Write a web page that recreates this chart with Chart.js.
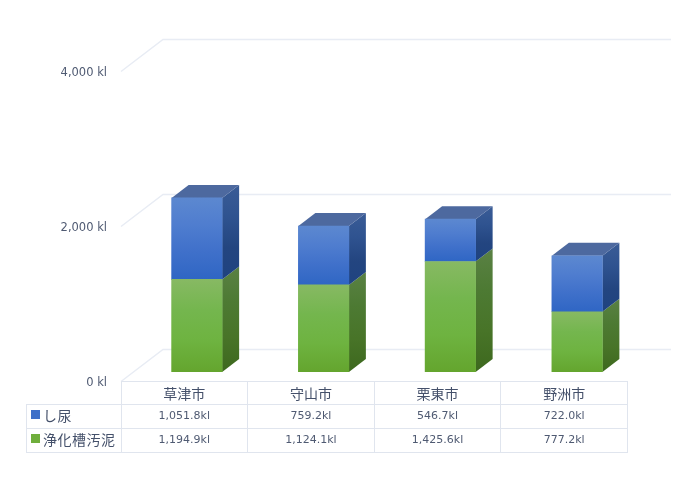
<!DOCTYPE html>
<html lang="ja">
<head>
<meta charset="utf-8">
<script src="https://cdn.jsdelivr.net/npm/chart.js@4"></script>
<style>
  html, body { margin: 0; padding: 0; background: #fff; }
  #wrap { position: relative; width: 682px; height: 481px; overflow: hidden; }
  #chart { position: absolute; left: 0; top: 0; }
  #dataTable {
    position: absolute; left: 26px; top: 381px; width: 602px;
    border-collapse: collapse; table-layout: fixed;
    font: 11px/14px "DejaVu Sans", sans-serif; color: #4f5a72;
  }
  #dataTable td { position: relative; border: 1px solid #e0e5ee; text-align: center; padding: 0 0 1px 0; height: 24px; box-sizing: border-box; white-space: nowrap; }
  #dataTable tr:first-child td { height: 23px; }
  #dataTable td.corner { border: 0; }
  #dataTable tr:first-child td:not(.corner), #dataTable td.name { font: 14px/14px "Noto Sans CJK JP", sans-serif; color: #44506a; }
  #dataTable td.name { text-align: left; padding-left: 16px; padding-bottom: 3px; letter-spacing: 0.5px; }
  .swatch { position: absolute; left: 4px; top: 5px; width: 9px; height: 9px; }
</style>
</head>
<body>
<div id="wrap">
  <canvas id="chart" width="682" height="481"></canvas>
  <table id="dataTable"></table>
</div>
<script>
const categories = ['草津市', '守山市', '栗東市', '野洲市'];
const shinyo = [1051.8, 759.2, 546.7, 722.0];
const jokaso = [1194.9, 1124.1, 1425.6, 777.2];
const yTicks = [0, 2000, 4000];

// depth of the fake 3d box, in pixels
const depthX = 17;
const depthY = 13;

function faceGradient(ctx, top, bottom, stops) {
    const g = ctx.createLinearGradient(0, top, 0, bottom);
    stops.forEach((c, i) => g.addColorStop(i / (stops.length - 1), c));
    return g;
}

const frontStops = {
    blue: ['#5c88d0', '#4f7dcf', '#3f70ca', '#2f66c4'],
    green: ['#87b963', '#74b64e', '#6eb340', '#64a52e']
};
const sideStops = {
    blue: ['#3a5c96', '#2f5390', '#234580', '#1f4380'],
    green: ['#5a8144', '#4d7a33', '#487428', '#3d681e']
};

function barFill(name) {
    return function(c) {
        const y = c.chart.scales.y;
        const sets = c.chart.data.datasets;
        if (!y || c.dataIndex === undefined) return frontStops[name][1];
        let base = 0;
        for (let i = 0; i < c.datasetIndex; i++) base += sets[i].data[c.dataIndex];
        const top = base + sets[c.datasetIndex].data[c.dataIndex];
        const topPx = y.getPixelForValue(top);
        const basePx = y.getPixelForValue(base);
        // scales have no size yet on the first pass
        if (!isFinite(topPx) || !isFinite(basePx)) return frontStops[name][1];
        return faceGradient(c.chart.ctx, topPx, basePx, frontStops[name]);
    };
}

const box3d = {
    id: 'box3d',
    beforeDatasetsDraw(chart) {
        const ctx = chart.ctx;
        const y = chart.scales.y;

        // back wall lines
        ctx.save();
        ctx.lineWidth = 1.5;
        yTicks.forEach(v => {
            const p = Math.round(y.getPixelForValue(v));
            ctx.strokeStyle = '#e8ecf4';
            ctx.beginPath();
            ctx.moveTo(121, p + 9.5);
            ctx.lineTo(163, p - 22.5);
            ctx.lineTo(671, p - 22.5);
            ctx.stroke();
        });
        ctx.restore();

        // sides and lids
        chart.data.datasets.forEach((ds, i) => {
            chart.getDatasetMeta(i).data.forEach(bar => {
                const right = bar.x + bar.width / 2;
                const left = bar.x - bar.width / 2;
                ctx.fillStyle = faceGradient(ctx, bar.y - depthY, bar.base, sideStops[ds.colorName]);
                ctx.beginPath();
                ctx.moveTo(right, bar.y);
                ctx.lineTo(right + depthX, bar.y - depthY);
                ctx.lineTo(right + depthX, bar.base - depthY);
                ctx.lineTo(right, bar.base);
                ctx.closePath();
                ctx.fill();
                if (i === chart.data.datasets.length - 1) {
                    ctx.fillStyle = '#4d699f';
                    ctx.beginPath();
                    ctx.moveTo(left, bar.y);
                    ctx.lineTo(left + depthX, bar.y - depthY);
                    ctx.lineTo(right + depthX, bar.y - depthY);
                    ctx.lineTo(right, bar.y);
                    ctx.closePath();
                    ctx.fill();
                }
            });
        });
    }
};

new Chart(document.getElementById('chart'), {
    type: 'bar',
    plugins: [box3d],
    data: {
        labels: categories,
        datasets: [
            { label: '浄化槽汚泥', data: jokaso, colorName: 'green', backgroundColor: barFill('green') },
            { label: 'し尿', data: shinyo, colorName: 'blue', backgroundColor: barFill('blue') }
        ]
    },
    options: {
        responsive: false,
        animation: false,
        layout: { padding: { top: 62, right: 41.5, bottom: 109, left: 0 } },
        datasets: { bar: { barThickness: 50.5, borderWidth: 0 } },
        plugins: { legend: { display: false }, tooltip: { enabled: false } },
        scales: {
            x: { stacked: true, display: false },
            y: {
                stacked: true,
                min: 0,
                max: 4000,
                afterFit(scale) { scale.width = 133.5; },
                border: { display: false },
                grid: { display: false, drawTicks: false },
                ticks: {
                    stepSize: 2000,
                    padding: 26.5,
                    labelOffset: 11,
                    color: '#4f5a72',
                    font: { family: '"DejaVu Sans"', size: 11.5 },
                    callback: v => v.toLocaleString('en-US') + ' kl'
                }
            }
        }
    }
});

// data table under the chart
const table = document.getElementById('dataTable');
const fmt = v => v.toLocaleString('en-US', { minimumFractionDigits: 1, maximumFractionDigits: 1 }) + 'kl';
let html = '<colgroup><col style="width:94.5px"><col span="4"></colgroup>';
html += '<tr><td class="corner"></td>' + categories.map(c => '<td>' + c + '</td>').join('') + '</tr>';
html += '<tr><td class="name"><span class="swatch" style="background:#3f70c8"></span>し尿</td>' + shinyo.map(v => '<td>' + fmt(v) + '</td>').join('') + '</tr>';
html += '<tr><td class="name"><span class="swatch" style="background:#6fae3c"></span>浄化槽汚泥</td>' + jokaso.map(v => '<td>' + fmt(v) + '</td>').join('') + '</tr>';
table.innerHTML = html;
</script>
</body>
</html>
